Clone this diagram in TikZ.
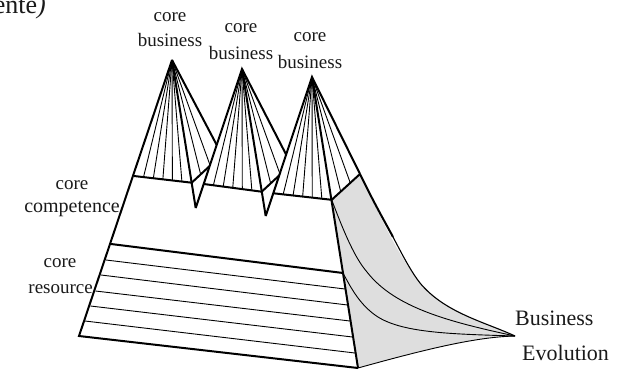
\documentclass[tikz,border=0pt]{standalone}
\usepackage{fontspec}
\setmainfont{Liberation Serif}
\usetikzlibrary{calc}
\definecolor{lightgrey}{HTML}{DEDEDE}
\definecolor{ink}{HTML}{1A1A1A}
\tikzset{
  thickline/.style={line width=2pt,line join=miter,black},
  thinline/.style={line width=0.9pt,black},
  fanline/.style={line width=0.9pt,black},
  label/.style={font=\fontsize{19}{19}\selectfont,text=ink,inner sep=0pt,anchor=center},
  biglabel/.style={font=\fontsize{22}{22}\selectfont,text=ink,inner sep=0pt},
  face/.style={fill=white,draw=none}
}
\newcommand{\pyramidfan}[4]{%
  \fill[white] (#1) -- (#2) -- (#3) -- ($(#3)+(#4)$) -- cycle;
  \foreach \t in {0.165,0.335,0.5,0.665,0.83}
    \draw[fanline] (#1) -- ($(#2)!\t!(#3)$);
  \foreach \t in {0.32,0.66}
    \draw[fanline] (#1) -- ($(#3)+\t*(#4)$);
}
\begin{document}
\begin{tikzpicture}[x=1pt,y=-1pt]
\useasboundingbox (0,0) rectangle (631,370);
\coordinate (A1) at (172,60);
\coordinate (A2) at (242,69);
\coordinate (A3) at (312,77);
\coordinate (L1) at (134,176);
\coordinate (R1) at (191.7,182.7);
\coordinate (T1) at (195.7,208);
\coordinate (L2) at (203.8,184);
\coordinate (R2) at (261.7,191.7);
\coordinate (T2) at (265.7,216);
\coordinate (L3) at (273.6,193.3);
\coordinate (R3) at (331.7,199.8);
\coordinate (Top) at (360,174);
\coordinate (BL) at (79,336);
\coordinate (BR) at (358,368);
\coordinate (Tip) at (515,336);
\coordinate (RL) at (111,244);
\coordinate (RR) at (343,273);

% grey flank
\fill[lightgrey] (Top) .. controls (381,218) and (396,252) .. (420,283)
   .. controls (445,313) and (485,322) .. (Tip)
   .. controls (477,337) and (430,348) .. (BR) -- (R3) -- cycle;

% pyramid 1
\pyramidfan{A1}{L1}{R1}{28,-26}
\draw[thickline] (A1) -- ($(A1)+(50,95)$);
\draw[thickline] (R1) -- ($(R1)+(28,-26)$);
% pyramid 2
\pyramidfan{A2}{L2}{R2}{28,-26}
\draw[thickline] (T1) -- (A2) -- ($(A2)+(49,95)$);
\draw[thickline] (R2) -- ($(R2)+(28,-26)$);
\draw[thickline] (L2) -- (R2);
\draw[thickline] (A1) -- (T1);
\draw[thickline] (L1) -- (R1);
% pyramid 3
\pyramidfan{A3}{L3}{R3}{28,-26}
\draw[thickline] (T2) -- (A3) -- (Top);
\draw[thickline] (R3) -- (Top);
\draw[thickline] (L3) -- (R3);
\draw[thickline] (A2) -- (T2);
\draw[thickline] (A3) -- (BR);
\draw[thickline] (A1) -- (BL) -- (BR);

% strata
\draw[thickline] (RL) -- (RR);
\draw[thinline] (106,260) -- (345,289);
\draw[thinline] (101,275) -- (347.5,305);
\draw[thinline] (95.5,291) -- (350,321);
\draw[thinline] (90.5,306) -- (352.5,337);
\draw[thinline] (85,321) -- (355,353);

% flank curves
\draw[line width=2pt] (Top) .. controls (375,205) and (385,222) .. (393,237);
\draw[line width=1.1pt] (393,237) .. controls (402,254) and (410,270) .. (420,283)
   .. controls (445,313) and (485,322) .. (Tip);
\draw[thinline] (R3) .. controls (345,235) and (355,258) .. (367,272)
   .. controls (395,308) and (450,322) .. (Tip);
\draw[thinline] (RR) .. controls (352,290) and (360,304) .. (375,315)
   .. controls (400,333) and (450,334) .. (Tip);
\draw[thinline] (BR) .. controls (430,348) and (477,337) .. (Tip);

% labels
\node[label] (c1) at (170,17) {core};
\node[label] (b1) at (170,40) {business};
\node[label] (c2) at (241,28) {core};
\node[label] (b2) at (241,53) {business};
\node[label] (c3) at (310,37) {core};
\node[label] (b3) at (310,62) {business};
\node[label] (c4) at (72,185) {core};
\node[label,anchor=east,font=\fontsize{20}{20}\selectfont] (b4) at (120,209) {competence};
\node[label] (c5) at (60,263) {core};
\node[label,anchor=east] (b5) at (93,289) {resource};
\node[biglabel,anchor=west] (e1) at (515,318) {Business};
\node[biglabel,anchor=west] (e2) at (522,353) {Evolution};
\node[font=\fontsize{26}{26}\selectfont,text=ink,inner sep=0pt,anchor=base east] (t) at (46,13) {ente\textit{)}};
\end{tikzpicture}
\end{document}
